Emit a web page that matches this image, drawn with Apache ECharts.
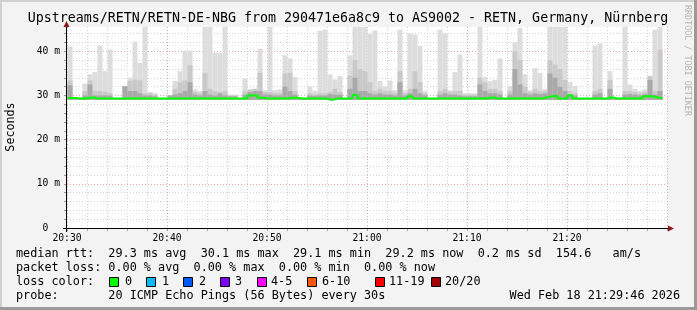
<!DOCTYPE html>
<html><head><meta charset="utf-8">
<script src="https://cdn.jsdelivr.net/npm/echarts/dist/echarts.min.js"></script>
<style>html,body{margin:0;padding:0;background:#f3f3f3}#c{width:697px;height:310px}</style>
</head><body><div id="c"></div>
<script>
// ---- data ----
const axisStartTime = '20:30:00';
const firstSlotStart = '20:30:03';
const probeStepSec = 30;
const xTickLabels = ['20:30', '20:40', '20:50', '21:00', '21:10', '21:20'];
const yTickLabels = ['0  ', '10 m', '20 m', '30 m', '40 m'];

// smoke: top of the lightest band (max ping) per 30 s slot, ms
const maxRtt = [41.1,29.4,29.4,32.7,34.8,35.3,41.3,35.5,40.4,29.4,29.4,32.1,34.0,42.2,37.4,46.0,30.8,30.5,29.4,29.4,
  30.0,33.3,35.5,40.2,40.2,31.4,31.0,46.0,46.0,39.7,39.7,46.0,30.2,30.2,29.4,33.8,31.5,31.5,40.6,31.2,
  46.0,31.2,31.4,39.1,38.4,34.2,29.4,29.4,32.1,31.0,44.7,44.9,34.8,33.6,34.4,29.4,39.1,46.0,46.0,46.0,
  44.0,44.7,33.3,32.1,33.4,31.2,44.9,31.2,44.0,43.8,41.3,31.0,29.4,29.4,44.9,44.0,31.2,35.3,39.3,30.5,
  30.5,30.5,46.0,34.2,33.3,33.5,38.4,29.4,32.1,42.1,45.3,34.8,31.2,36.2,35.1,31.5,46.0,46.0,46.0,46.0,
  33.1,32.1,29.4,29.4,29.4,41.3,41.8,29.4,35.5,29.4,29.4,46.0,32.5,31.5,31.0,31.4,34.5,44.9,46.0];
// top of the medium band
const midRtt = [33.4,29.4,29.4,31.0,33.4,31.0,31.0,30.8,30.5,29.4,29.4,32.1,33.3,33.6,33.4,30.5,30.5,30.2,29.4,29.4,
  30.0,31.5,33.0,33.4,36.8,30.8,30.5,35.1,31.5,31.0,30.8,31.0,30.0,30.0,29.4,31.0,31.2,31.5,35.1,30.8,
  30.8,30.5,30.5,35.0,35.1,31.0,29.4,29.4,30.5,30.3,30.5,30.5,30.8,31.5,30.8,29.4,34.5,38.0,36.0,35.5,
  33.0,31.0,31.5,31.0,31.0,30.5,35.5,30.5,31.5,35.5,33.0,30.5,29.4,29.4,31.0,31.5,30.8,31.0,31.0,30.2,
  30.2,30.2,34.0,33.0,31.5,31.5,31.0,29.4,31.0,40.0,38.0,32.0,30.8,31.5,31.0,31.0,38.0,37.0,36.0,33.5,
  31.0,30.5,29.4,29.4,29.4,31.0,31.5,29.4,33.5,29.4,29.4,31.0,31.0,30.8,30.5,30.8,34.3,31.0,40.4];
// top of the dark band (pings nearest the median)
const darkRtt = [32.3,29.4,29.4,30.0,32.5,30.0,30.0,30.0,30.0,29.4,29.4,32.1,31.0,31.0,30.5,30.0,30.0,29.8,29.4,29.4,
  30.0,30.2,30.5,31.0,33.0,30.2,30.0,31.0,30.2,30.0,30.5,30.0,29.8,29.8,29.4,30.2,30.8,31.0,31.0,30.2,
  30.2,30.0,30.0,32.0,31.0,30.2,29.4,29.4,30.0,29.9,30.0,30.0,30.3,30.2,30.2,29.4,31.5,34.0,31.0,31.0,
  30.5,30.2,30.5,30.2,30.2,30.0,33.0,30.0,30.5,31.5,30.5,30.0,29.4,29.4,30.2,30.5,30.2,30.2,30.0,29.8,
  29.8,29.8,32.5,31.0,30.5,30.5,30.2,29.4,30.2,36.0,32.5,30.5,30.2,30.5,30.3,30.5,35.0,34.0,32.0,31.0,
  30.3,30.0,29.4,29.4,29.4,30.2,30.5,29.4,31.5,29.4,29.4,30.2,30.3,30.2,30.0,30.3,33.5,30.2,31.0];
// bottom of the smoke (min ping)
const minRtt = [29.0,29.0,29.0,29.0,29.0,29.0,29.0,29.0,29.0,29.0,29.0,29.0,29.0,29.0,29.0,29.0,29.0,29.0,29.0,29.0,
  29.0,29.0,29.0,29.0,29.0,29.0,29.0,29.0,29.0,29.0,29.0,29.0,29.0,29.0,29.0,29.0,29.0,29.0,29.0,29.0,
  29.0,29.0,29.0,29.0,29.0,29.0,29.0,29.0,29.0,29.0,29.0,29.0,28.9,29.0,29.0,29.0,29.0,29.0,29.0,29.0,
  29.0,29.0,29.0,29.0,29.0,29.0,29.0,29.0,29.0,29.0,29.0,29.0,29.0,29.0,29.0,29.0,29.0,29.0,29.0,29.0,
  29.0,29.0,29.0,29.0,29.0,29.0,29.0,29.0,29.0,29.0,29.0,29.0,29.0,29.0,29.0,29.0,29.0,29.0,29.0,29.0,
  29.0,29.0,29.0,29.0,29.0,29.0,29.0,29.0,29.0,29.0,29.0,29.0,29.0,29.0,29.0,29.0,29.0,29.0,29.0];
// median rtt, ms
const medianRtt = [29.4,29.4,29.3,29.3,29.6,29.3,29.3,29.3,29.3,29.3,29.3,29.3,29.3,29.3,29.3,29.3,29.3,29.3,29.3,29.3,
  29.3,29.3,29.3,29.3,29.4,29.3,29.3,29.3,29.3,29.3,29.3,29.3,29.3,29.3,29.3,29.3,30.0,30.0,29.5,29.3,
  29.3,29.3,29.3,29.3,29.5,29.5,29.3,29.3,29.3,29.3,29.3,29.3,29.0,29.3,29.3,29.3,29.3,30.1,29.3,29.3,
  29.3,29.3,29.3,29.3,29.3,29.3,29.3,29.3,29.8,29.3,29.3,29.3,29.3,29.3,29.3,29.3,29.3,29.3,29.3,29.3,
  29.3,29.3,29.3,29.3,29.6,29.3,29.3,29.3,29.3,29.3,29.3,29.3,29.3,29.3,29.3,29.6,29.8,29.9,29.3,29.3,
  30.0,29.3,29.3,29.3,29.3,29.3,29.3,29.3,29.6,29.3,29.3,29.3,29.3,29.3,29.3,29.8,29.8,29.6,29.3];

const statsLines = [
  'median rtt:  29.3 ms avg  30.1 ms max  29.1 ms min  29.2 ms now  0.2 ms sd  154.6   am/s',
  'packet loss: 0.00 % avg  0.00 % max  0.00 % min  0.00 % now',
  'loss color:',
  'probe:       20 ICMP Echo Pings (56 Bytes) every 30s'
];
const lossLabels = ['0', '1', '2', '3', '4-5', '6-10', '11-19', '20/20'];
const lossColors = ['#00ff00', '#00b8ff', '#0059ff', '#7e00ff', '#ff00ff', '#ff5500', '#ff0000', '#a10000'];
const titleText = 'Upstreams/RETN/RETN-DE-NBG from 290471e6a8c9 to AS9002 - RETN, Germany, Nürnberg';
const stampText = 'Wed Feb 18 21:29:46 2026';

// ---- build ----
function secs(s) { const p = s.split(':').map(Number); return p[0] * 3600 + p[1] * 60 + p[2]; }
const t0 = secs(axisStartTime), ts = secs(firstSlotStart);
const slotMin = probeStepSec / 60;
const xs = maxRtt.map((_, i) => (ts - t0 + i * probeStepSec) / 60);   // slot start, minutes after 20:30

function bandSeries(name, topArr, color, z) {
  return {
    name, type: 'custom', z, silent: true, animation: false,
    encode: { x: 0, y: [1, 2] },
    data: topArr.map((v, i) => [xs[i], minRtt[i], v]),
    renderItem: function (params, api) {
      const x = api.value(0), lo = api.value(1), hi = api.value(2);
      if (hi <= lo) return null;
      const a = api.coord([x, hi]);
      const b = api.coord([x + slotMin, lo]);
      const rect = echarts.graphic.clipRectByRect(
        { x: a[0], y: a[1], width: b[0] - a[0], height: b[1] - a[1] },
        { x: params.coordSys.x, y: params.coordSys.y, width: params.coordSys.width, height: params.coordSys.height });
      return rect && { type: 'rect', shape: rect, style: { fill: color } };
    }
  };
}
const medianData = medianRtt.map((v, i) => [xs[i], v]);
medianData.push([xs[xs.length - 1] + slotMin, medianRtt[medianRtt.length - 1]]);

const MONO = '"DejaVu Sans Mono", monospace';
const GL = 67, GT = 27, GR = 667, GB = 228;
const gridMinor = '#d4d4d4', gridMajor = '#f2a6a6';

const graphics = [];
graphics.push({ type: 'rect', shape: { x: 0, y: 0, width: 697, height: 2 }, style: { fill: '#d0d0d0' }, silent: true });
graphics.push({ type: 'rect', shape: { x: 0, y: 0, width: 2, height: 310 }, style: { fill: '#d0d0d0' }, silent: true });
graphics.push({ type: 'rect', shape: { x: 694, y: 0, width: 3, height: 310 }, style: { fill: '#9a9a9a' }, silent: true });
graphics.push({ type: 'rect', shape: { x: 0, y: 307, width: 697, height: 3 }, style: { fill: '#9a9a9a' }, silent: true });
graphics.push({ type: 'text', x: 348, y: 19, style: { text: titleText, font: '13.3px ' + MONO, fill: '#000', align: 'center', verticalAlign: 'middle' } });
graphics.push({ type: 'text', x: 11, y: 127, rotation: Math.PI / 2, style: { text: 'Seconds', font: '11.7px ' + MONO, fill: '#000', align: 'center', verticalAlign: 'middle' } });
graphics.push({ type: 'text', x: 687, y: 5, rotation: -Math.PI / 2, style: { text: 'RRDTOOL / TOBI OETIKER', font: '8.4px ' + MONO, fill: '#b4b4b4', align: 'left', verticalAlign: 'middle' } });
graphics.push({ type: 'line', shape: { x1: 63, y1: GB + 0.5, x2: 669, y2: GB + 0.5 }, style: { stroke: '#000', lineWidth: 1 }, z: 100 });
graphics.push({ type: 'line', shape: { x1: GL - 0.5, y1: GB + 4, x2: GL - 0.5, y2: 25 }, style: { stroke: '#000', lineWidth: 1 }, z: 100 });
graphics.push({ type: 'polygon', shape: { points: [[674, GB + 0.5], [668, GB - 2.5], [668, GB + 3.5]] }, style: { fill: '#8b1a1a' }, z: 101 });
graphics.push({ type: 'polygon', shape: { points: [[GL - 0.5, 21], [GL - 3.5, 27], [GL + 2.5, 27]] }, style: { fill: '#8b1a1a' }, z: 101 });
const rowY = [254, 268, 282, 296];
statsLines.forEach((s, i) => graphics.push({ type: 'text', x: 16, y: rowY[i], style: { text: s, font: '11.8px ' + MONO, fill: '#000', verticalAlign: 'middle' } }));
const swX = [109, 146, 183, 220, 257, 307, 375, 431];
const lbX = [125, 162, 199, 235, 271, 322, 389, 445];
lossLabels.forEach((l, i) => {
  graphics.push({ type: 'rect', shape: { x: swX[i] + 0.5, y: 277.5, width: 9, height: 9 }, style: { fill: lossColors[i], stroke: '#000', lineWidth: 1 } });
  graphics.push({ type: 'text', x: lbX[i], y: rowY[2], style: { text: l, font: '11.8px ' + MONO, fill: '#000', verticalAlign: 'middle' } });
});
graphics.push({ type: 'text', x: 680, y: rowY[3], style: { text: stampText, font: '11.8px ' + MONO, fill: '#000', align: 'right', verticalAlign: 'middle' } });

const chart = echarts.init(document.getElementById('c'), null, { renderer: 'canvas' });
chart.setOption({
  backgroundColor: '#f3f3f3',
  animation: false,
  grid: { left: GL, top: GT, right: 697 - GR, bottom: 310 - GB, show: true, backgroundColor: '#ffffff', borderWidth: 0 },
  xAxis: {
    type: 'value', min: 0, max: 60, interval: 2,
    axisLine: { show: false },
    axisTick: { show: true, length: 3, lineStyle: { color: '#999' } },
    axisLabel: { margin: 5, fontFamily: 'DejaVu Sans Mono', fontSize: 9.7, color: '#000',
      formatter: v => (v % 10 === 0 && xTickLabels[v / 10]) ? xTickLabels[v / 10] : '' },
    splitLine: { show: true, lineStyle: { type: [1, 2], color: [gridMajor, gridMinor, gridMinor, gridMinor, gridMinor] } }
  },
  yAxis: {
    type: 'value', min: 0, max: 45.5, interval: 2,
    axisLine: { show: false },
    axisTick: { show: true, length: 3, lineStyle: { color: '#999' } },
    axisLabel: { margin: 7, fontFamily: 'DejaVu Sans Mono', fontSize: 9.7, color: '#000', showMaxLabel: false,
      formatter: v => (v % 10 === 0 && yTickLabels[v / 10]) ? yTickLabels[v / 10] : '' },
    splitLine: { show: true, showMaxLine: false, lineStyle: { type: [1, 2], color: [gridMajor, gridMinor, gridMinor, gridMinor, gridMinor] } }
  },
  series: [
    bandSeries('light', maxRtt, '#dddddd', 2),
    bandSeries('mid', midRtt, '#c9c9c9', 3),
    bandSeries('dark', darkRtt, '#a9a9a9', 4),
    { name: 'median', type: 'line', step: 'end', data: medianData, symbol: 'none',
      lineStyle: { color: '#00ff00', width: 2 }, z: 5, silent: true, animation: false }
  ],
  graphic: graphics
});
</script></body></html>
